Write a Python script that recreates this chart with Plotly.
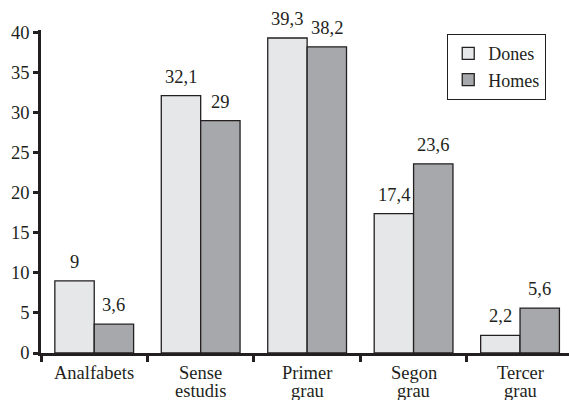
import plotly.graph_objects as go

# Data
categories = ["Analfabets", "Sense<br>estudis", "Primer<br>grau", "Segon<br>grau", "Tercer<br>grau"]
dones = [9, 32.1, 39.3, 17.4, 2.2]
homes = [3.6, 29, 38.2, 23.6, 5.6]
dones_labels = ["9", "32,1", "39,3", "17,4", "2,2"]
homes_labels = ["3,6", "29", "38,2", "23,6", "5,6"]
y_ticks = [0, 5, 10, 15, 20, 25, 30, 35, 40]

FONT = "'Liberation Serif', 'Times New Roman', Times, serif"
INK = "#231f20"
BARGAP = 0.26
FS = 18.5

fig = go.Figure()
fig.add_trace(go.Bar(
    name="Dones", x=categories, y=dones,
    marker=dict(color="#e6e7e9", line=dict(color=INK, width=1.3)),
))
fig.add_trace(go.Bar(
    name="Homes", x=categories, y=homes,
    marker=dict(color="#a7a8ab", line=dict(color=INK, width=1.3)),
))

# Value labels above each bar
off = (1 - BARGAP) / 4
for i in range(len(categories)):
    for dx, val, lab in ((-off, dones[i], dones_labels[i]), (off, homes[i], homes_labels[i])):
        fig.add_annotation(
            x=i + dx, y=val, text=lab, showarrow=False,
            yanchor="bottom", yshift=7,
            font=dict(family=FONT, size=FS, color=INK),
        )

# Category names under the axis, one annotation per line for tight spacing
for i, cat in enumerate(categories):
    for k, line in enumerate(cat.split("<br>")):
        fig.add_annotation(
            x=i, y=0, yref="paper", text=line, showarrow=False,
            yanchor="middle", yshift=-20 - 18 * k,
            font=dict(family=FONT, size=FS, color=INK),
        )

fig.update_layout(
    width=569, height=400,
    margin=dict(l=41, r=0, t=30, b=47),
    paper_bgcolor="white", plot_bgcolor="white",
    barmode="group", bargap=BARGAP, bargroupgap=0,
    font=dict(family=FONT, size=FS, color=INK),
    showlegend=True,
    legend=dict(
        x=0.769, y=0.988, xanchor="left", yanchor="top",
        bordercolor=INK, borderwidth=1.2, bgcolor="white",
        font=dict(family=FONT, size=18, color=INK),
        itemwidth=30, tracegroupgap=0,
    ),
)
fig.update_xaxes(
    type="category", range=[-0.5, 4.46], automargin=False,
    showticklabels=False,
    showline=True, linecolor=INK, linewidth=2.5,
    ticks="outside", tickson="boundaries", ticklen=6, tickwidth=2.5, tickcolor=INK,
    showgrid=False, zeroline=False,
)
fig.update_yaxes(
    range=[0, 40.3], tickvals=y_ticks, automargin=False,
    showline=True, linecolor=INK, linewidth=2.5,
    ticks="outside", ticklen=5, tickwidth=2.5, tickcolor=INK,
    showgrid=False, zeroline=False,
    tickfont=dict(family=FONT, size=FS, color=INK),
)

fig.write_html("out.html")
